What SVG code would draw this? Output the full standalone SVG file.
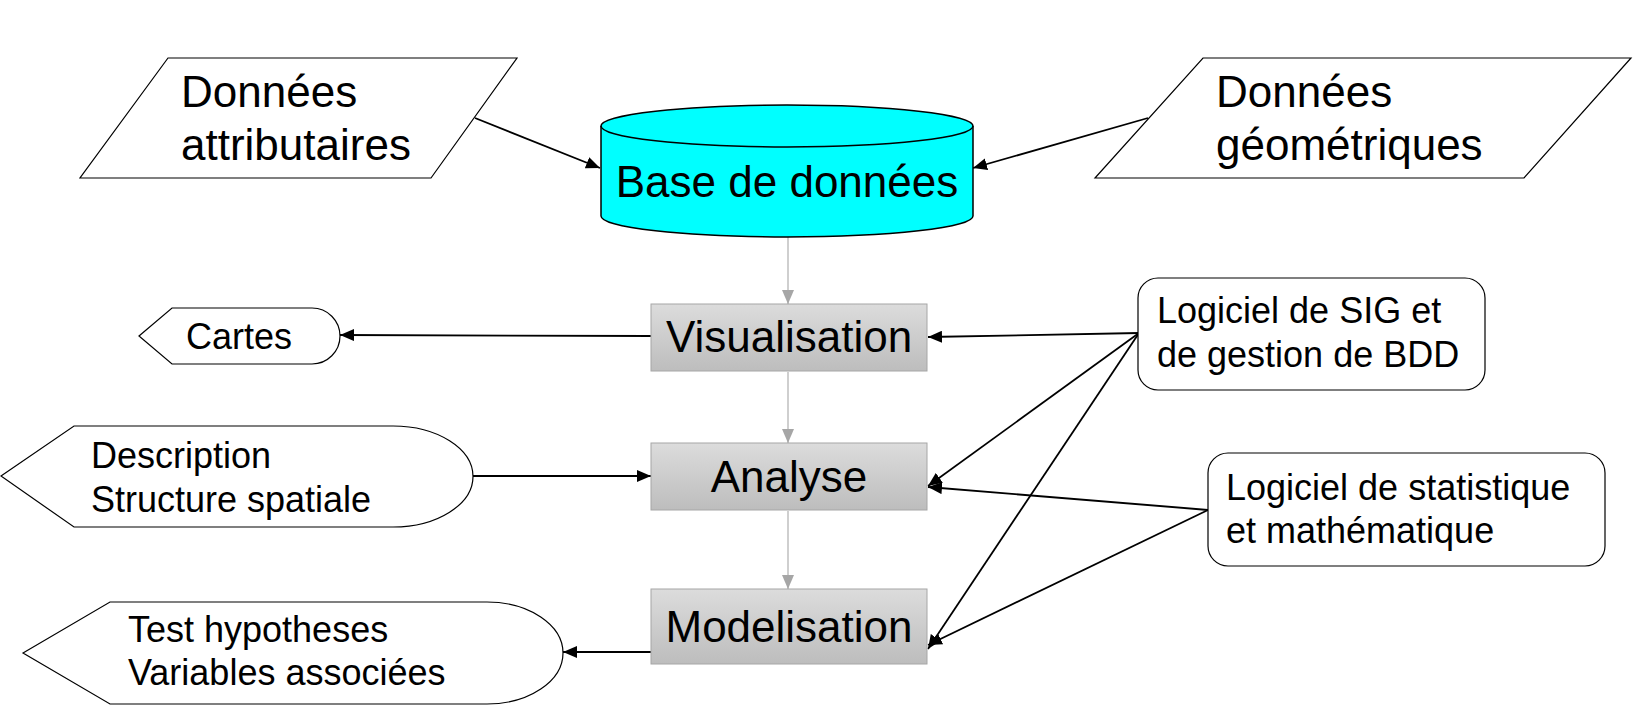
<svg xmlns="http://www.w3.org/2000/svg" width="1642" height="710" viewBox="0 0 1642 710">
<defs>
<style>
text{font-family:"Liberation Sans",Arial,sans-serif;fill:#000}
.big{font-size:44px}
.mid{font-size:36px}
.shape{fill:#fff;stroke:#000;stroke-width:1.2}
.box{fill:url(#g);stroke:#a6a6a6;stroke-width:1}
.c{stroke:#000;stroke-width:1.8;fill:none;marker-end:url(#a)}
.cg{stroke:#bfbfbf;stroke-width:1.5;fill:none;marker-end:url(#ag)}
</style>
<linearGradient id="g" x1="0" y1="0" x2="0" y2="1">
<stop offset="0" stop-color="#dcdcdc"/>
<stop offset="1" stop-color="#bdbdbd"/>
</linearGradient>
<marker id="a" markerUnits="userSpaceOnUse" markerWidth="14" markerHeight="12" refX="14" refY="6" orient="auto">
<path d="M0,0 L14,6 L0,12 z" fill="#000"/>
</marker>
<marker id="ag" markerUnits="userSpaceOnUse" markerWidth="14" markerHeight="12" refX="14" refY="6" orient="auto">
<path d="M0,0 L14,6 L0,12 z" fill="#a6a6a6"/>
</marker>
</defs>
<rect width="1642" height="710" fill="#fff"/>

<g id="connectors">
<path class="cg" d="M788,237 L788,304"/>
<path class="cg" d="M788,372 L788,443"/>
<path class="cg" d="M788,511 L788,589"/>
<path class="c" d="M475,118 L600,168"/>
<path class="c" d="M1148,118 L973,168"/>
<path class="c" d="M651,336 L340,335"/>
<path class="c" d="M473,476 L651,476"/>
<path class="c" d="M651,652 L563,652"/>
<path class="c" d="M1139,333 L928,337"/>
<path class="c" d="M1139,333 L928,486"/>
<path class="c" d="M1139,333 L928,649"/>
<path class="c" d="M1208,510 L928,487"/>
<path class="c" d="M1208,510 L928,645"/>
</g>

<g id="donnees-attributaires">
<polygon class="shape" points="168,58 517,58 431,178 80,178"/>
<text class="big" x="181" y="107">Données</text>
<text class="big" x="181" y="160">attributaires</text>
</g>

<g id="donnees-geometriques">
<polygon class="shape" points="1203,58 1631,58 1524,178 1095,178"/>
<text class="big" x="1216" y="107">Données</text>
<text class="big" x="1216" y="160">géométriques</text>
</g>

<g id="base-de-donnees">
<path d="M601,126 L601,216 A186,21 0 0 0 973,216 L973,126 A186,21 0 0 0 601,126 Z" fill="#00ffff" stroke="#000" stroke-width="1.5"/>
<path d="M601,126 A186,21 0 0 0 973,126" fill="none" stroke="#000" stroke-width="1.5"/>
<text class="big" x="787" y="197" text-anchor="middle">Base de données</text>
</g>

<g id="visualisation">
<rect class="box" x="651" y="304" width="276" height="67"/>
<text class="big" x="789" y="352" text-anchor="middle">Visualisation</text>
</g>

<g id="analyse">
<rect class="box" x="651" y="443" width="276" height="67"/>
<text class="big" x="789" y="492" text-anchor="middle">Analyse</text>
</g>

<g id="modelisation">
<rect class="box" x="651" y="589" width="276" height="75"/>
<text class="big" x="789" y="642" text-anchor="middle">Modelisation</text>
</g>

<g id="cartes">
<path class="shape" d="M139,336 L172,308 L312,308 A28,28 0 0 1 312,364 L172,364 Z"/>
<text class="mid" x="186" y="349">Cartes</text>
</g>

<g id="description">
<path class="shape" d="M1,476 L74,426 L393,426 A80,50.5 0 0 1 393,527 L74,527 Z"/>
<text class="mid" x="91" y="468">Description</text>
<text class="mid" x="91" y="512">Structure spatiale</text>
</g>

<g id="test-hypotheses">
<path class="shape" d="M23,653 L110,602 L487,602 A76,51 0 0 1 487,704 L110,704 Z"/>
<text class="mid" x="128" y="642">Test hypotheses</text>
<text class="mid" x="128" y="685">Variables associées</text>
</g>

<g id="logiciel-sig">
<rect class="shape" x="1138" y="278" width="347" height="112" rx="20"/>
<text class="mid" x="1157" y="323">Logiciel de SIG et</text>
<text class="mid" x="1157" y="367">de gestion de BDD</text>
</g>

<g id="logiciel-stat">
<rect class="shape" x="1208" y="453" width="397" height="113" rx="20"/>
<text class="mid" x="1226" y="500">Logiciel de statistique</text>
<text class="mid" x="1226" y="543">et mathématique</text>
</g>
</svg>
